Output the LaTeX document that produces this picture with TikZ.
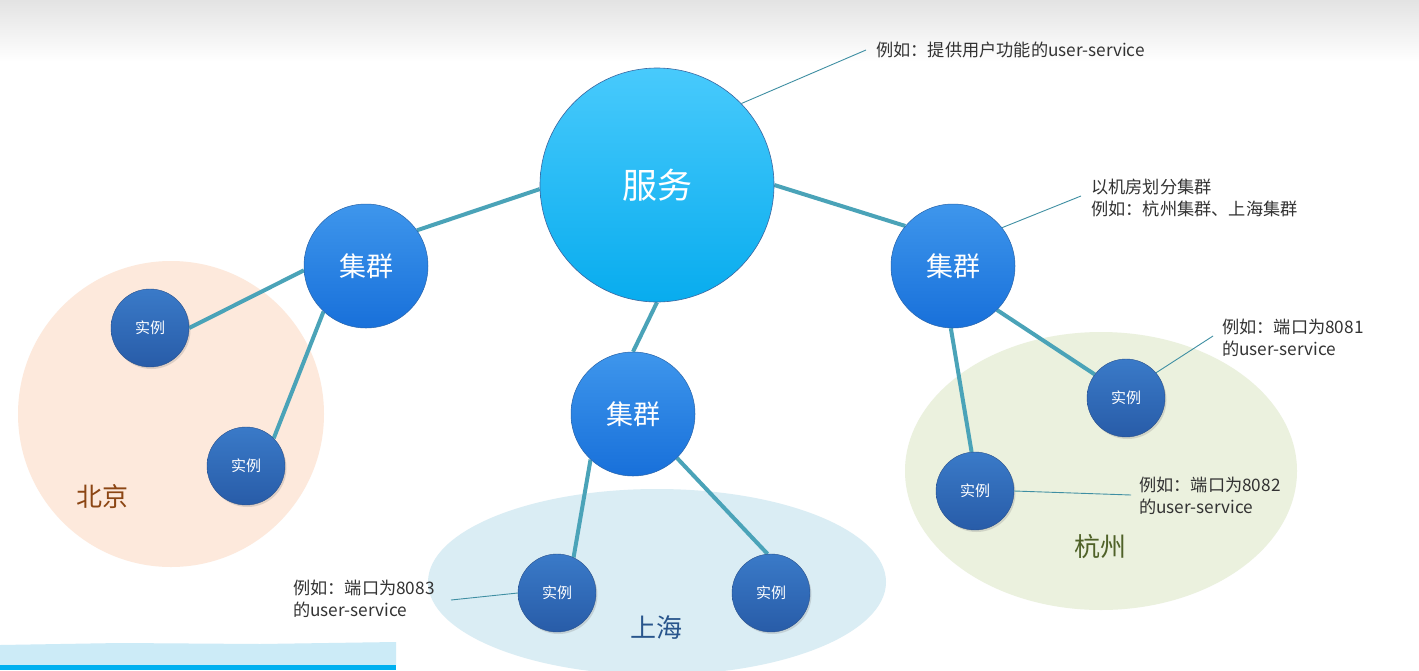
\documentclass[tikz,border=0pt]{standalone}
\usepackage{fontspec}
\setmainfont{Noto Sans CJK SC}
\usetikzlibrary{shadows}
\pgfdeclarelayer{back}
\pgfdeclarelayer{bg}
\pgfsetlayers{back,bg,main}
\definecolor{linkc}{HTML}{4AA3B8}
\definecolor{notec}{HTML}{3F8FA3}
\definecolor{txtc}{HTML}{333333}
\tikzset{
  link/.style={draw=linkc, line width=4pt},
  noteline/.style={draw=notec, line width=0.9pt},
  notetext/.style={text=txtc, font=\fontsize{17.2}{22}\selectfont, align=left, anchor=west, inner sep=0pt},
  svc/.style={circle, inner sep=0pt, minimum size=234pt, draw=black!40!cyan!60!blue, line width=0.6pt,
     top color={rgb,255:red,72;green,202;blue,252}, bottom color={rgb,255:red,8;green,172;blue,238},
     text=white, font=\fontsize{35}{40}\selectfont},
  clus/.style={circle, inner sep=0pt, minimum size=124pt, draw={rgb,255:red,40;green,100;blue,170}, line width=0.5pt,
     top color={rgb,255:red,62;green,150;blue,236}, bottom color={rgb,255:red,24;green,112;blue,218},
     text=white, font=\fontsize{27}{30}\selectfont},
  inst/.style={circle, inner sep=0pt, minimum size=78pt, draw={rgb,255:red,40;green,80;blue,140}, line width=0.4pt,
     top color={rgb,255:red,58;green,122;blue,200}, bottom color={rgb,255:red,40;green,92;blue,168},
     text=white, font=\fontsize{15}{18}\selectfont,
     drop shadow={shadow xshift=1.5pt, shadow yshift=-2pt, opacity=0.25}},
  region/.style={font=\fontsize{26}{30}\selectfont}
}
\begin{document}
\begin{tikzpicture}[x=1pt,y=-1pt]
\useasboundingbox (0,0) rectangle (1419,670);
\begin{pgfonlayer}{back}
\fill[white] (0,0) rectangle (1419,670);
\begin{scope}
\clip (0,0) rectangle (1419,670);
% top gray gradient
\shade[top color=black!11, bottom color=white] (0,0) rectangle (1419,62);
% regions
\fill[fill={rgb,255:red,253;green,233;blue,220}] (171,414) circle[radius=153pt];
\fill[fill={rgb,255:red,218;green,237;blue,244}] (657,582) ellipse[x radius=229pt, y radius=93pt];
\fill[fill={rgb,255:red,235;green,241;blue,222}] (1101,471) ellipse[x radius=196pt, y radius=139pt];
% bottom-left bar
\fill[fill={rgb,255:red,204;green,235;blue,247}] (0,645) -- (120,643) -- (260,644) -- (396,642) -- (396,665) -- (0,665) -- cycle;
\fill[fill={rgb,255:red,0;green,176;blue,240}] (0,665) rectangle (396,670);
\end{scope}
\end{pgfonlayer}

% region labels
\node[region, text={rgb,255:red,140;green,70;blue,20}] (bj) at (102,497) {北京};
\node[region, text={rgb,255:red,40;green,85;blue,140}] (sh) at (656,628) {上海};
\node[region, text={rgb,255:red,79;green,98;blue,40}] (hz) at (1100,547) {杭州};

% nodes
\node[svc] (s) at (657,185) {服务};
\node[clus] (cl) at (366,266) {集群};
\node[clus] (cm) at (633,414) {集群};
\node[clus] (cr) at (953,266) {集群};
\node[inst] (l1) at (150,328) {实例};
\node[inst] (l2) at (246,466) {实例};
\node[inst] (m1) at (557,593) {实例};
\node[inst] (m2) at (771,593) {实例};
\node[inst] (r1) at (1126,398) {实例};
\node[inst] (r2) at (975,491) {实例};

% links (drawn behind the circles)
\begin{pgfonlayer}{bg}
\draw[link] (s.182) -- (cl.35);
\draw[link] (s.south) -- (cm.north);
\draw[link] (s.0) -- (cr.140);
\draw[link] (cl.184) -- (l1.east);
\draw[link] (cl.-133) -- (l2.45);
\draw[link] (cm.-133) -- (m1.65);
\draw[link] (cm.-45) -- (m2.95);
\draw[link] (cr.-45) -- (r1.143);
\draw[link] (cr.-92) -- (r2.95);
\end{pgfonlayer}

% annotations
\node[notetext] (n1) at (876,50) {例如：提供用户功能的user-service};
\node[notetext] (n2) at (1091,198) {以机房划分集群\\例如：杭州集群、上海集群};
\node[notetext] (n3) at (1222,338) {例如：端口为8081\\的user-service};
\node[notetext] (n4) at (1139,496) {例如：端口为8082\\的user-service};
\node[notetext] (n5) at (293,599) {例如：端口为8083\\的user-service};

\coordinate (a1) at (866,50);
\coordinate (a2) at (1081,196);
\coordinate (a3) at (1213,336);
\coordinate (a4) at (1131,495);
\coordinate (a5) at (451,600);
\draw[noteline] (s.44) -- (a1);
\draw[noteline] (cr.38) -- (a2);
\draw[noteline] (r1.40) -- (a3);
\draw[noteline] (r2.east) -- (a4);
\draw[noteline] (a5) -- (m1.west);
\end{tikzpicture}
\end{document}
